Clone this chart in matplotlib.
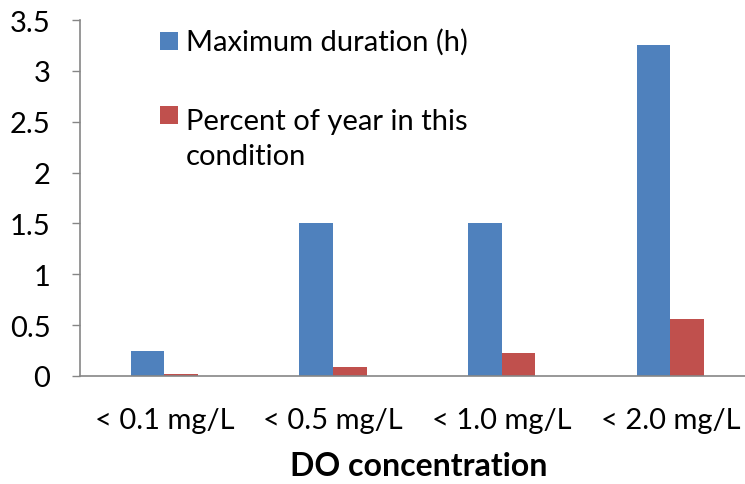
import matplotlib
matplotlib.use("Agg")
import matplotlib.pyplot as plt
from matplotlib.patches import Rectangle
import numpy as np

# === Data ===
categories = ["< 0.1 mg/L", "< 0.5 mg/L", "< 1.0 mg/L", "< 2.0 mg/L"]
max_duration = [0.25, 1.5, 1.5, 3.25]
percent_year = [0.015, 0.09, 0.225, 0.56]
series_labels = ["Maximum duration (h)", "Percent of year in this\ncondition"]
yticks = [0, 0.5, 1, 1.5, 2, 2.5, 3, 3.5]
ytick_labels = ["0", "0.5", "1", "1.5", "2", "2.5", "3", "3.5"]

# === Style ===
blue = "#4F81BD"
red = "#C0504D"
axis_gray = "#868686"
plt.rcParams["font.family"] = ["Lato", "DejaVu Sans"]
fs = 21

W, H = 745, 485
fig = plt.figure(figsize=(W / 100, H / 100), dpi=100)

# axes in pixel units (right end runs past the figure edge)
left, top, bottom, width = 80, 21, 377, 674.7
ax = fig.add_axes([left / W, 1 - bottom / H, width / W, (bottom - top) / H])

x = np.arange(len(categories))
bw = 0.2
ax.bar(x - bw / 2, max_duration, bw, color=blue, label=series_labels[0])
ax.bar(x + bw / 2, percent_year, bw, color=red, label=series_labels[1])

ax.set_xlim(-0.5, len(categories) - 0.5)
ax.set_ylim(0, 3.5)
ax.set_yticks(yticks)
ax.set_yticklabels(ytick_labels, fontsize=fs)
ax.set_xticks(x)
ax.set_xticklabels(categories, fontsize=fs)
ax.tick_params(axis="y", length=5.8, width=1, color=axis_gray, pad=15.5)
ax.tick_params(axis="x", length=0, pad=22.5)

for side in ["top", "right"]:
    ax.spines[side].set_visible(False)
for side in ["left", "bottom"]:
    ax.spines[side].set_color(axis_gray)
    ax.spines[side].set_linewidth(1.2)

ax.set_xlabel("DO concentration", fontsize=23, fontweight="bold")
ax.xaxis.set_label_coords((418.5 - left) / width, -(476 - bottom) / (bottom - top))
ax.xaxis.label.set_va("baseline")

# === Legend boxes drawn by hand ===
def fy(py):
    return 1 - py / H

# (colour, label, box top, baseline of last text line) in pixels from the top
legend_items = [(blue, series_labels[0], 33, 51), (red, series_labels[1], 107, 165)]
for color, label, box_top, base in legend_items:
    fig.add_artist(Rectangle((160 / W, fy(box_top + 18)), 18 / W, 18 / H,
                             transform=fig.transFigure, facecolor=color,
                             edgecolor="none"))
    fig.text(186 / W, fy(base), label, fontsize=fs, va="baseline",
             ha="left", linespacing=1.42, transform=fig.transFigure)

fig.savefig("out.png", dpi=100)
